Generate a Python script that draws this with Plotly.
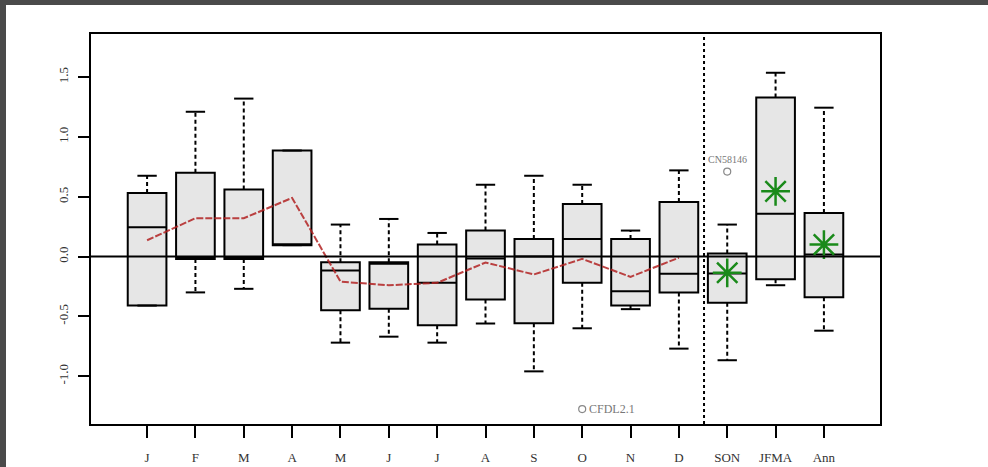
import plotly.graph_objects as go

labels = ["J", "F", "M", "A", "M", "J", "J", "A", "S", "O", "N", "D", "SON", "JFMA", "Ann"]
positions = list(range(1, 16))
lower = [-0.41, -0.30, -0.27, 0.095, -0.72, -0.67, -0.72, -0.56, -0.96, -0.60, -0.44, -0.77, -0.867, -0.24, -0.62]
q1 =    [-0.41, -0.02, -0.02, 0.095, -0.45, -0.436, -0.575, -0.36, -0.558, -0.22, -0.41, -0.30, -0.386, -0.19, -0.34]
med =   [0.245, -0.01, -0.01, 0.095, -0.117, -0.06, -0.22, -0.017, 0.0, 0.147, -0.29, -0.145, -0.142, 0.358, 0.017]
q3 =    [0.53, 0.70, 0.56, 0.886, -0.047, -0.047, 0.10, 0.217, 0.147, 0.44, 0.147, 0.456, 0.025, 1.33, 0.364]
upper = [0.675, 1.21, 1.32, 0.886, 0.267, 0.314, 0.197, 0.60, 0.675, 0.60, 0.217, 0.72, 0.267, 1.536, 1.244]

month_mean = [0.136, 0.32, 0.32, 0.49, -0.21, -0.24, -0.22, -0.05, -0.15, -0.02, -0.17, -0.01]
season_pos = [13, 14, 15]
season_mean = [-0.136, 0.545, 0.10]

outlier_pos = [10, 13]
outlier_val = [-1.275, 0.71]
outlier_lab = ["CFDL2.1", "CN58146"]

separator_x = 12.52

fig = go.Figure()

# whiskers (dashed) and caps
wx, wy, cx, cy = [], [], [], []
for p, lo, a, b, hi in zip(positions, lower, q1, q3, upper):
    wx += [p, p, None, p, p, None]
    wy += [b, hi, None, a, lo, None]
    cx += [p - 0.2, p + 0.2, None, p - 0.2, p + 0.2, None]
    cy += [hi, hi, None, lo, lo, None]
fig.add_trace(go.Scatter(x=wx, y=wy, mode="lines", line=dict(color="black", width=2, dash="4px,3px"),
                         showlegend=False, hoverinfo="skip"))
fig.add_trace(go.Scatter(x=cx, y=cy, mode="lines", line=dict(color="black", width=2),
                         showlegend=False, hoverinfo="skip"))

fig.add_trace(go.Box(x=positions, q1=q1, median=med, q3=q3, lowerfence=q1, upperfence=q3,
                     fillcolor="#e6e6e6", line=dict(color="black", width=2), width=0.8,
                     boxpoints=False, showlegend=False, hoverinfo="skip"))

fig.add_trace(go.Scatter(x=positions[:12], y=month_mean, mode="lines",
                         line=dict(color="rgba(178,34,34,0.85)", width=2, dash="7px,2px"),
                         showlegend=False, hoverinfo="skip"))

fig.add_trace(go.Scatter(x=season_pos, y=season_mean, mode="markers",
                         marker=dict(symbol="asterisk-open", size=24, color="#1a8a1a",
                                     line=dict(color="#1a8a1a", width=2.5)),
                         showlegend=False, hoverinfo="skip"))

fig.add_trace(go.Scatter(x=outlier_pos, y=outlier_val, mode="markers",
                         marker=dict(symbol="circle-open", size=7, color="#888",
                                     line=dict(color="#888", width=1.2)),
                         showlegend=False, hoverinfo="skip"))

fig.add_annotation(x=outlier_pos[0], y=outlier_val[0], text=outlier_lab[0], showarrow=False,
                   xanchor="left", xshift=5, font=dict(family="Liberation Serif", size=12, color="#777"))
fig.add_annotation(x=outlier_pos[1], y=outlier_val[1], text=outlier_lab[1], showarrow=False,
                   yanchor="bottom", yshift=5, font=dict(family="Liberation Serif", size=10, color="#777"))

# zero line above boxes
fig.add_shape(type="line", xref="paper", x0=0, x1=1, yref="y", y0=0, y1=0,
              line=dict(color="black", width=2), layer="above")
# separator
fig.add_shape(type="line", xref="x", x0=separator_x, x1=separator_x, yref="paper", y0=0, y1=1,
              line=dict(color="black", width=2, dash="dot"), layer="above")

# dark page border strips
W, H = 988, 467
ml, mr, mt, mb = 91, 108, 34, 43
pw, ph = W - ml - mr, H - mt - mb
def px2paper_x(px):
    return (px - ml) / pw
def py2paper_y(py):
    return (H - mb - py) / ph
fig.add_shape(type="rect", xref="paper", yref="paper", x0=px2paper_x(0), x1=px2paper_x(6),
              y0=py2paper_y(H), y1=py2paper_y(0), fillcolor="#4a4a4a", line=dict(width=0), layer="below")
fig.add_shape(type="rect", xref="paper", yref="paper", x0=px2paper_x(0), x1=px2paper_x(W),
              y0=py2paper_y(5), y1=py2paper_y(0), fillcolor="#4a4a4a", line=dict(width=0), layer="below")

fig.update_layout(
    width=W, height=H,
    margin=dict(l=ml, r=mr, t=mt, b=mb, autoexpand=False),
    paper_bgcolor="white", plot_bgcolor="white",
    font=dict(family="Liberation Serif", size=13, color="#333"),
    xaxis=dict(range=[-0.16, 16.16], tickmode="array", tickvals=positions, ticktext=labels,
               automargin=False,
               showgrid=False, zeroline=False, showline=True, mirror=True, linecolor="black", linewidth=2,
               ticks="outside", ticklen=12, tickwidth=2, tickcolor="black", ticklabelstandoff=8),
    yaxis=dict(range=[-1.40, 1.86], tickmode="array", tickvals=[-1.0, -0.5, 0.0, 0.5, 1.0, 1.5],
               ticktext=["-1.0", "-0.5", "0.0", "0.5", "1.0", "1.5"], tickangle=-90,
               automargin=False,
               showgrid=False, zeroline=False, showline=True, mirror=True, linecolor="black", linewidth=2,
               ticks="outside", ticklen=11, tickwidth=2, tickcolor="black", ticklabelstandoff=5),
)

fig.write_html("out.html", config={"displayModeBar": False},
               post_script="document.body.style.margin='0';document.body.style.overflow='hidden';")
